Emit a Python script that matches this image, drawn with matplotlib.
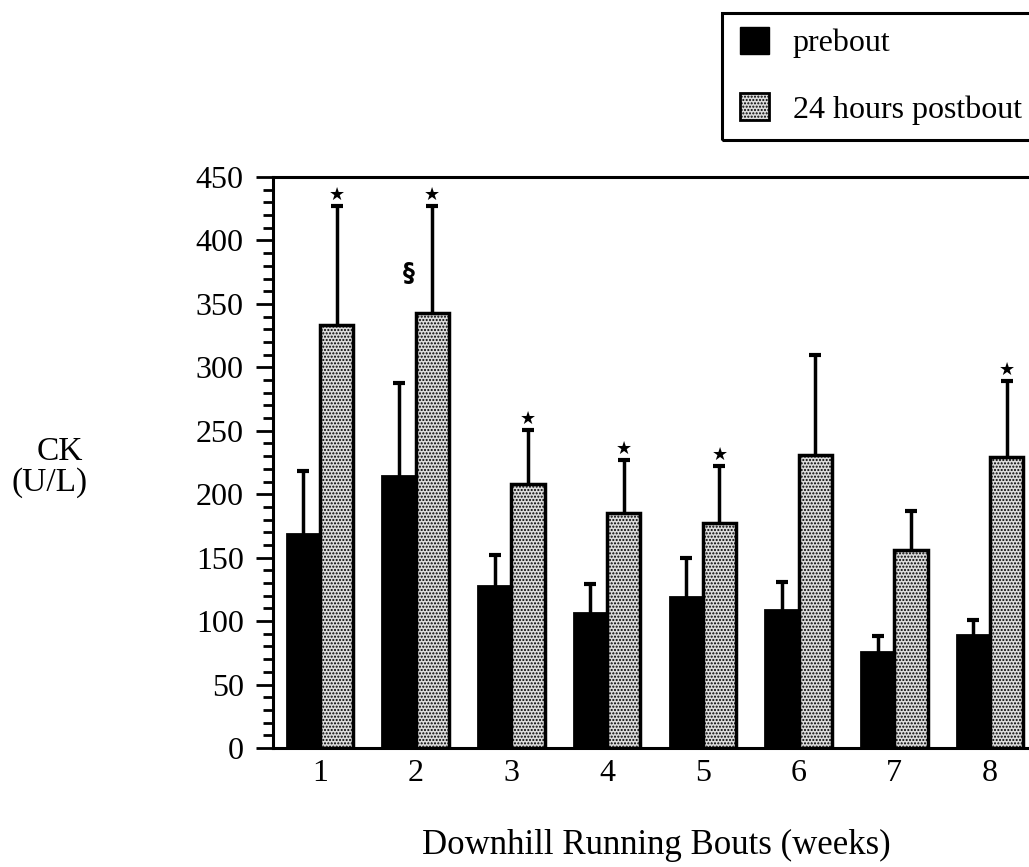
import matplotlib
matplotlib.use("Agg")
import matplotlib.pyplot as plt
import numpy as np
from matplotlib.patches import Patch, Rectangle

plt.rcParams['font.family'] = ['Liberation Serif', 'DejaVu Serif']
plt.rcParams['hatch.linewidth'] = 1.0

weeks = [1, 2, 3, 4, 5, 6, 7, 8]
week_labels = ['1', '2', '3', '4', '5', '6', '7', '8']
prebout = [169, 214, 128, 106, 119, 109, 76, 89]
prebout_sd = [49, 74, 24, 23, 31, 22, 12, 12]
postbout = [333, 343, 208, 185, 177, 231, 156, 229]
postbout_sd = [94, 84, 43, 42, 45, 79, 31, 60]
post_significant = [True, True, True, True, True, False, False, True]
section_mark_week = 2

fig = plt.figure(figsize=(10.29, 8.67), dpi=100)
ax = fig.add_axes([273/1029, (867-748)/867, 1 - 273/1029 + 0.02, (748-177)/867])

x = np.array(weeks, dtype=float)
w = 0.348
ax.bar(x - w/2, prebout, width=w, color='black', edgecolor='black', linewidth=2, zorder=3)
ax.bar(x + w/2, postbout, width=w, color='#dcdcdc', edgecolor='black', linewidth=2.5,
       hatch='.....', zorder=3)

for xs, vals, errs in [(x - w/2, prebout, prebout_sd), (x + w/2, postbout, postbout_sd)]:
    eb = ax.errorbar(xs, vals, yerr=[np.zeros(len(x)), errs], fmt='none',
                     ecolor='black', elinewidth=2.5, capsize=4.5, capthick=3, zorder=2)
    caps = eb[1]
    if len(caps) == 2:
        caps[0].set_visible(False)

for xi, v, e, s in zip(x, postbout, postbout_sd, post_significant):
    if s:
        ax.text(xi + w/2, v + e + 1.5, '★', ha='center', va='bottom', fontsize=13,
                family=['DejaVu Sans'])

i2 = weeks.index(section_mark_week)
ax.text(x[i2] - 0.07, 374, '§', ha='center', va='center', fontsize=17,
        family=['DejaVu Sans'], fontweight='bold')

ax.set_xlim(0.509, 8.408 + 0.02 * 1029 / 95.7)
ax.set_ylim(0, 450)
ax.set_yticks(np.arange(0, 451, 50))
ax.set_yticks(np.arange(0, 451, 10), minor=True)
ax.set_xticks(x)
ax.set_xticklabels(week_labels)
ax.tick_params(axis='y', which='major', direction='out', length=12, width=2, labelsize=23, pad=9)
ax.tick_params(axis='y', which='minor', direction='out', length=7.5, width=2)
ax.tick_params(axis='x', which='major', length=0, labelsize=23, pad=8)

for sp in ['left', 'bottom', 'top']:
    ax.spines[sp].set_linewidth(2.2)
ax.spines['right'].set_visible(False)

fig.text(60/1029, 1 - 452/867, 'CK', ha='center', va='center', fontsize=24)
fig.text(50/1029, 1 - 483/867, '(U/L)', ha='center', va='center', fontsize=24)
fig.text(656/1029, 1 - 845/867, 'Downhill Running Bouts (weeks)', ha='center', va='center', fontsize=25)

handles = [Patch(facecolor='black', edgecolor='black'),
           Patch(facecolor='#dcdcdc', edgecolor='black', hatch='.....', linewidth=2)]
leg = fig.legend(handles, ['prebout', '24 hours postbout'], loc='upper left',
                 bbox_to_anchor=(740/1029, 1 - 27/867), fontsize=23, frameon=False,
                 borderpad=0, labelspacing=1.1,
                 handlelength=0.9, handleheight=0.9, handletextpad=0.75, borderaxespad=0)
frame = Rectangle((722/1029, 1 - 140/867), (1040 - 722)/1029, (140 - 13)/867,
                  transform=fig.transFigure, facecolor='none', edgecolor='black',
                  linewidth=2.2, clip_on=False)
fig.add_artist(frame)

fig.savefig('out.png', dpi=100)
